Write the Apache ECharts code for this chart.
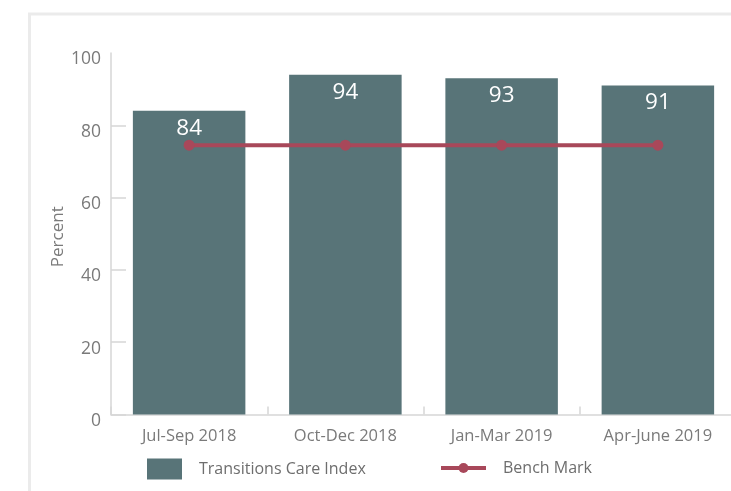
<!DOCTYPE html>
<html>
<head>
<meta charset="utf-8">
<script src="https://cdn.jsdelivr.net/npm/echarts@6/dist/echarts.min.js"></script>
<style>
  html, body { margin: 0; padding: 0; background: #ffffff; }
  #chart { width: 731px; height: 491px; }
</style>
</head>
<body>
<div id="chart"></div>
<script>
// Quarterly transitions care index against the bench mark
const quarters = ['Jul-Sep 2018', 'Oct-Dec 2018', 'Jan-Mar 2019', 'Apr-June 2019'];
const careIndex = [84, 94, 93, 91];
const benchMark = [74.5, 74.5, 74.5, 74.5];
const yTicks = [0, 20, 40, 60, 80, 100];

const FONT = 'Open Sans';
const BAR_COLOR = '#587478';
const LINE_COLOR = '#a8485a';
const AXIS_COLOR = '#d6d6d6';
const TEXT_GRAY = '#7a7a7a';

const chart = echarts.init(document.getElementById('chart'), null, { renderer: 'canvas' });

chart.setOption({
  animation: false,
  backgroundColor: '#ffffff',
  textStyle: { fontFamily: FONT },
  graphic: [{
    type: 'rect',
    silent: true,
    z: -10,
    shape: { x: 29.5, y: 14, width: 800, height: 600 },
    style: { fill: 'none', stroke: '#ebebeb', lineWidth: 3 }
  }],
  // the plot runs a little past the right edge of the canvas
  grid: { left: 111, width: 625, top: 53, bottom: 76.5, containLabel: false, outerBoundsMode: 'none' },
  legend: [{
    data: [{ name: 'Transitions Care Index', icon: 'rect' }],
    left: 147,
    top: 458.5,
    padding: 0,
    itemWidth: 35,
    itemHeight: 21,
    textStyle: { fontFamily: FONT, fontSize: 16, color: '#6e6e6e', padding: [0, 0, 0, 12] }
  }, {
    data: ['Bench Mark'],
    left: 439,
    top: 460,
    padding: 0,
    itemWidth: 45,
    itemHeight: 12.5,
    lineStyle: { width: 4 },
    textStyle: { fontFamily: FONT, fontSize: 16, color: '#6e6e6e', padding: [0, 0, 0, 12] }
  }],
  xAxis: {
    type: 'category',
    data: quarters,
    boundaryGap: true,
    axisLine: { show: true, lineStyle: { color: AXIS_COLOR, width: 1.5 } },
    axisTick: { show: true, inside: true, length: 8, alignWithLabel: false, lineStyle: { color: AXIS_COLOR, width: 1.5 } },
    axisLabel: { fontFamily: FONT, fontSize: 16.5, color: TEXT_GRAY, margin: 13 },
    splitLine: { show: false }
  },
  yAxis: {
    type: 'value',
    min: yTicks[0],
    max: yTicks[yTicks.length - 1],
    interval: 20,
    name: 'Percent',
    nameLocation: 'middle',
    nameGap: 44,
    nameRotate: 90,
    nameMoveOverlap: false,
    nameTextStyle: { fontFamily: FONT, fontSize: 17, color: TEXT_GRAY, padding: [0, 0, 0, -6] },
    axisLine: { show: true, lineStyle: { color: AXIS_COLOR, width: 1.5 } },
    axisTick: { show: true, inside: true, length: 15, customValues: yTicks.slice(0, -1), lineStyle: { color: AXIS_COLOR, width: 1.5 } },
    axisLabel: { fontFamily: FONT, fontSize: 17.5, color: TEXT_GRAY, margin: 10, verticalAlign: 'top', lineHeight: 13 },
    splitLine: { show: false }
  },
  series: [{
    name: 'Transitions Care Index',
    type: 'bar',
    data: careIndex,
    barWidth: '72%',
    itemStyle: { color: BAR_COLOR },
    label: {
      show: true,
      position: 'insideTop',
      distance: 6,
      fontFamily: FONT,
      fontSize: 22.5,
      color: '#ffffff'
    },
    z: 2
  }, {
    name: 'Bench Mark',
    type: 'line',
    data: benchMark,
    symbol: 'circle',
    symbolSize: 11,
    lineStyle: { color: LINE_COLOR, width: 4 },
    itemStyle: { color: LINE_COLOR },
    label: { show: false },
    z: 5
  }]
});
</script>
</body>
</html>
